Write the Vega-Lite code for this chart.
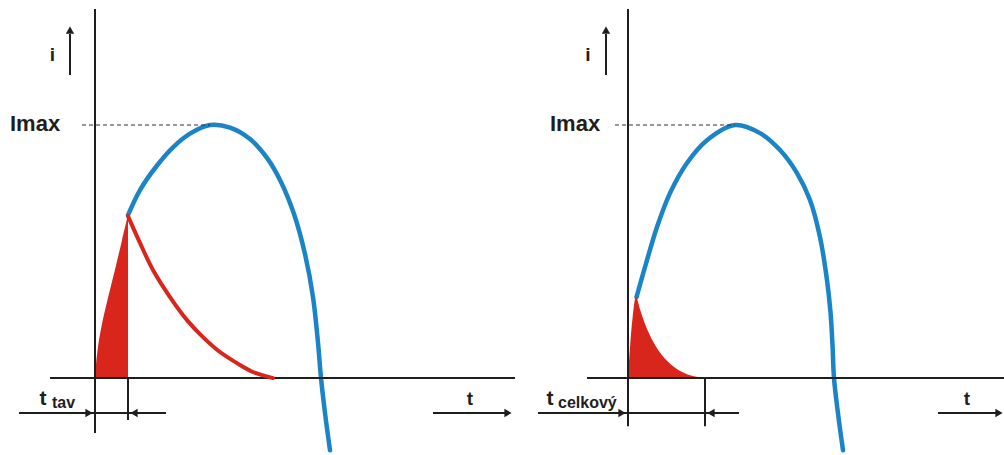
{
  "$schema": "https://vega.github.io/schema/vega-lite/v6.json",
  "padding": 0,
  "spacing": 0,
  "background": "white",
  "config": {"view": {"stroke": null}, "concat": {"spacing": 0}},
  "datasets": {
    "L_blue": [
      {"o": 1, "t": 3.3, "i": 0.644}, {"o": 2, "t": 4.5, "i": 0.743}, {"o": 3, "t": 6.2, "i": 0.840},
      {"o": 4, "t": 7.8, "i": 0.912}, {"o": 5, "t": 9.5, "i": 0.966}, {"o": 6, "t": 11.5, "i": 1.0},
      {"o": 7, "t": 13.5, "i": 0.990}, {"o": 8, "t": 15.5, "i": 0.945}, {"o": 9, "t": 17.2, "i": 0.870},
      {"o": 10, "t": 18.6, "i": 0.775}, {"o": 11, "t": 19.9, "i": 0.648}, {"o": 12, "t": 21.0, "i": 0.490},
      {"o": 13, "t": 21.8, "i": 0.320}, {"o": 14, "t": 22.3, "i": 0.140}, {"o": 15, "t": 22.6, "i": 0.0},
      {"o": 16, "t": 23.0, "i": -0.138}, {"o": 17, "t": 23.5, "i": -0.285}
    ],
    "L_fill": [
      {"t": 0, "i": 0}, {"t": 0.15, "i": 0.075}, {"t": 0.4, "i": 0.150}, {"t": 0.7, "i": 0.215},
      {"t": 1.1, "i": 0.285}, {"t": 1.6, "i": 0.365}, {"t": 2.1, "i": 0.445}, {"t": 2.7, "i": 0.545},
      {"t": 3.3, "i": 0.644}
    ],
    "L_red": [
      {"t": 3.3, "i": 0.640}, {"t": 4.5, "i": 0.534}, {"t": 5.8, "i": 0.427}, {"t": 7.5, "i": 0.320},
      {"t": 9.2, "i": 0.229}, {"t": 10.8, "i": 0.162}, {"t": 12.5, "i": 0.103}, {"t": 14.2, "i": 0.059},
      {"t": 15.8, "i": 0.024}, {"t": 17.8, "i": 0.0}
    ],
    "L_rules": [
      {"t": 0, "i": 1.458, "t2": 0, "i2": -0.217},
      {"t": -4.5, "i": 0, "t2": 42.0, "i2": 0},
      {"t": 3.3, "i": 0, "t2": 3.3, "i2": -0.166},
      {"t": -7.6, "i": -0.138, "t2": 7.1, "i2": -0.138},
      {"t": 33.8, "i": -0.138, "t2": 41.0, "i2": -0.138},
      {"t": -2.5, "i": 1.198, "t2": -2.5, "i2": 1.36}
    ],
    "L_dash": [{"t": -1.3, "i": 1, "t2": 11.5, "i2": 1}],
    "L_right": [{"t": -0.6, "i": -0.138}, {"t": 41.3, "i": -0.138}],
    "L_left": [{"t": 3.9, "i": -0.138}],
    "L_up": [{"t": -2.5, "i": 1.375}],
    "L_big": [{"t": -4.25, "i": 1.253, "label": "i"}, {"t": 37.5, "i": -0.107, "label": "t"}],
    "L_t": [{"t": -5.2, "i": -0.107, "label": "t"}],
    "L_imax": [{"t": -8.5, "i": 0.976, "label": "Imax"}],
    "L_sub": [{"t": -4.3, "i": -0.119, "label": "tav"}],

    "R_blue": [
      {"o": 1, "t": 0.85, "i": 0.320}, {"o": 2, "t": 1.9, "i": 0.466}, {"o": 3, "t": 2.9, "i": 0.597},
      {"o": 4, "t": 4.2, "i": 0.731}, {"o": 5, "t": 5.9, "i": 0.850}, {"o": 6, "t": 7.9, "i": 0.940},
      {"o": 7, "t": 10.7, "i": 1.0}, {"o": 8, "t": 13.2, "i": 0.968}, {"o": 9, "t": 15.2, "i": 0.901},
      {"o": 10, "t": 16.9, "i": 0.810}, {"o": 11, "t": 18.2, "i": 0.704}, {"o": 12, "t": 19.2, "i": 0.557},
      {"o": 13, "t": 19.9, "i": 0.387}, {"o": 14, "t": 20.25, "i": 0.260}, {"o": 15, "t": 20.45, "i": 0.130},
      {"o": 16, "t": 20.6, "i": 0.0}, {"o": 17, "t": 21.0, "i": -0.140}, {"o": 18, "t": 21.5, "i": -0.285}
    ],
    "R_fill": [
      {"t": 0, "i": 0}, {"t": 0.2, "i": 0.120}, {"t": 0.45, "i": 0.235}, {"t": 0.8, "i": 0.320},
      {"t": 1.2, "i": 0.272}, {"t": 1.6, "i": 0.225}, {"t": 2.2, "i": 0.168}, {"t": 3.0, "i": 0.112},
      {"t": 3.9, "i": 0.068}, {"t": 5.0, "i": 0.033}, {"t": 6.3, "i": 0.010}, {"t": 7.7, "i": 0.0}
    ],
    "R_rules": [
      {"t": 0, "i": 1.458, "t2": 0, "i2": -0.190},
      {"t": -4.1, "i": 0, "t2": 37.6, "i2": 0},
      {"t": 7.7, "i": 0, "t2": 7.7, "i2": -0.190},
      {"t": -9.0, "i": -0.138, "t2": 11.1, "i2": -0.138},
      {"t": 31.0, "i": -0.138, "t2": 37.0, "i2": -0.138},
      {"t": -2.2, "i": 1.198, "t2": -2.2, "i2": 1.36}
    ],
    "R_dash": [{"t": -1.3, "i": 1, "t2": 10.7, "i2": 1}],
    "R_right": [{"t": -0.6, "i": -0.138}, {"t": 37.1, "i": -0.138}],
    "R_left": [{"t": 8.3, "i": -0.138}],
    "R_up": [{"t": -2.2, "i": 1.375}],
    "R_big": [{"t": -4.0, "i": 1.253, "label": "i"}, {"t": 33.9, "i": -0.107, "label": "t"}],
    "R_t": [{"t": -7.8, "i": -0.107, "label": "t"}],
    "R_imax": [{"t": -7.8, "i": 0.976, "label": "Imax"}],
    "R_sub": [{"t": -7.0, "i": -0.119, "label": "celkový"}]
  },
  "hconcat": [
    {
      "width": 520,
      "height": 455,
      "encoding": {
        "x": {"field": "t", "type": "quantitative", "scale": {"domain": [-9.5, 42.5], "nice": false, "zero": false}, "axis": null},
        "y": {"field": "i", "type": "quantitative", "scale": {"domain": [-0.304, 1.494], "nice": false, "zero": false}, "axis": null}
      },
      "layer": [
        {"data": {"name": "L_blue"}, "mark": {"type": "line", "color": "#1a84c6", "strokeWidth": 4.5, "interpolate": "catmull-rom", "strokeCap": "round"}, "encoding": {"order": {"field": "o", "type": "quantitative"}}},
        {"data": {"name": "L_fill"}, "mark": {"type": "area", "color": "#d8261c", "opacity": 1, "interpolate": "catmull-rom"}, "encoding": {"y2": {"datum": 0}}},
        {"data": {"name": "L_rules"}, "mark": {"type": "rule", "color": "#1e1e1e", "strokeWidth": 2}, "encoding": {"x2": {"field": "t2"}, "y2": {"field": "i2"}}},
        {"data": {"name": "L_dash"}, "mark": {"type": "rule", "color": "#333333", "strokeWidth": 1.2, "strokeDash": [4, 3]}, "encoding": {"x2": {"field": "t2"}, "y2": {"field": "i2"}}},
        {"data": {"name": "L_red"}, "mark": {"type": "line", "color": "#d8261c", "strokeWidth": 4, "interpolate": "catmull-rom", "strokeCap": "round"}, "encoding": {}},
        {"data": {"name": "L_right"}, "mark": {"type": "point", "shape": "triangle-right", "filled": true, "color": "#1e1e1e", "opacity": 1, "size": 70}, "encoding": {}},
        {"data": {"name": "L_left"}, "mark": {"type": "point", "shape": "triangle-left", "filled": true, "color": "#1e1e1e", "opacity": 1, "size": 70}, "encoding": {}},
        {"data": {"name": "L_up"}, "mark": {"type": "point", "shape": "triangle-up", "filled": true, "color": "#1e1e1e", "opacity": 1, "size": 70}, "encoding": {}},
        {"data": {"name": "L_big"}, "mark": {"type": "text", "font": "Liberation Sans", "fontWeight": "bold", "fontSize": 19, "align": "center", "baseline": "alphabetic", "color": "#1e1e1e"}, "encoding": {"text": {"field": "label"}}},
        {"data": {"name": "L_t"}, "mark": {"type": "text", "font": "Liberation Sans", "fontWeight": "bold", "fontSize": 21, "align": "center", "baseline": "alphabetic", "color": "#1e1e1e"}, "encoding": {"text": {"field": "label"}}},
        {"data": {"name": "L_imax"}, "mark": {"type": "text", "font": "Liberation Sans", "fontWeight": "bold", "fontSize": 22, "align": "left", "baseline": "alphabetic", "color": "#1e1e1e"}, "encoding": {"text": {"field": "label"}}},
        {"data": {"name": "L_sub"}, "mark": {"type": "text", "font": "Liberation Sans", "fontWeight": "bold", "fontSize": 16, "align": "left", "baseline": "alphabetic", "color": "#1e1e1e"}, "encoding": {"text": {"field": "label"}}}
      ]
    },
    {
      "width": 484,
      "height": 455,
      "encoding": {
        "x": {"field": "t", "type": "quantitative", "scale": {"domain": [-10.8, 37.6], "nice": false, "zero": false}, "axis": null},
        "y": {"field": "i", "type": "quantitative", "scale": {"domain": [-0.304, 1.494], "nice": false, "zero": false}, "axis": null}
      },
      "layer": [
        {"data": {"name": "R_blue"}, "mark": {"type": "line", "color": "#1a84c6", "strokeWidth": 4.5, "interpolate": "catmull-rom", "strokeCap": "round"}, "encoding": {"order": {"field": "o", "type": "quantitative"}}},
        {"data": {"name": "R_fill"}, "mark": {"type": "area", "color": "#d8261c", "opacity": 1, "interpolate": "catmull-rom"}, "encoding": {"y2": {"datum": 0}}},
        {"data": {"name": "R_rules"}, "mark": {"type": "rule", "color": "#1e1e1e", "strokeWidth": 2}, "encoding": {"x2": {"field": "t2"}, "y2": {"field": "i2"}}},
        {"data": {"name": "R_dash"}, "mark": {"type": "rule", "color": "#333333", "strokeWidth": 1.2, "strokeDash": [4, 3]}, "encoding": {"x2": {"field": "t2"}, "y2": {"field": "i2"}}},
        {"data": {"name": "R_right"}, "mark": {"type": "point", "shape": "triangle-right", "filled": true, "color": "#1e1e1e", "opacity": 1, "size": 70}, "encoding": {}},
        {"data": {"name": "R_left"}, "mark": {"type": "point", "shape": "triangle-left", "filled": true, "color": "#1e1e1e", "opacity": 1, "size": 70}, "encoding": {}},
        {"data": {"name": "R_up"}, "mark": {"type": "point", "shape": "triangle-up", "filled": true, "color": "#1e1e1e", "opacity": 1, "size": 70}, "encoding": {}},
        {"data": {"name": "R_big"}, "mark": {"type": "text", "font": "Liberation Sans", "fontWeight": "bold", "fontSize": 19, "align": "center", "baseline": "alphabetic", "color": "#1e1e1e"}, "encoding": {"text": {"field": "label"}}},
        {"data": {"name": "R_t"}, "mark": {"type": "text", "font": "Liberation Sans", "fontWeight": "bold", "fontSize": 21, "align": "center", "baseline": "alphabetic", "color": "#1e1e1e"}, "encoding": {"text": {"field": "label"}}},
        {"data": {"name": "R_imax"}, "mark": {"type": "text", "font": "Liberation Sans", "fontWeight": "bold", "fontSize": 22, "align": "left", "baseline": "alphabetic", "color": "#1e1e1e"}, "encoding": {"text": {"field": "label"}}},
        {"data": {"name": "R_sub"}, "mark": {"type": "text", "font": "Liberation Sans", "fontWeight": "bold", "fontSize": 16, "align": "left", "baseline": "alphabetic", "color": "#1e1e1e"}, "encoding": {"text": {"field": "label"}}}
      ]
    }
  ]
}
